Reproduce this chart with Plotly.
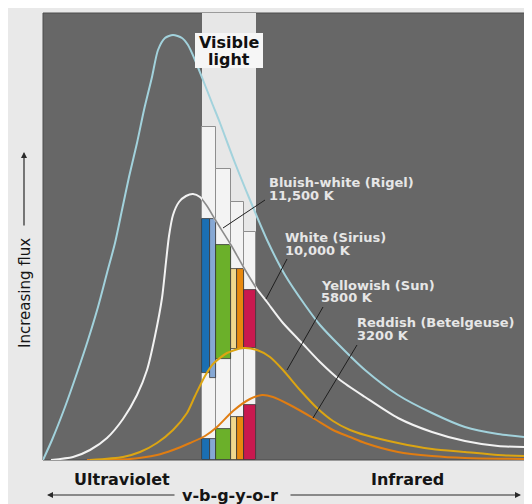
import plotly.graph_objects as go

# ---------------- data (arbitrary wavelength / flux units) ----------------
# Bluish-white (Rigel) curve
rigel_wl = [0, 9, 22, 34, 45, 55, 64, 72, 79, 86, 94, 101, 109, 115, 122, 130, 139, 145, 152,
            160, 169, 177, 192, 207, 225, 242, 262, 277, 296, 322, 355, 389, 422, 455, 482]
rigel_flux = [0, 20, 53, 87, 120, 153, 187, 217, 250, 283, 317, 350, 383, 410, 422, 425, 422, 415, 400,
              380, 357, 337, 297, 260, 218, 185, 155, 135, 115, 90, 65, 47, 33, 26, 23]

# White (Sirius) curve
sirius_wl = [8, 30, 47, 64, 80, 94, 104, 112, 119, 123, 126, 130, 136, 143, 150, 157, 164, 173, 188,
             201, 214, 224, 240, 259, 277, 297, 322, 355, 389, 422, 455, 482]
sirius_flux = [0, 3, 10, 22, 41, 65, 90, 124, 162, 198, 224, 245, 258, 264, 266, 263, 254, 239, 215,
               192, 171, 158, 137, 117, 98, 80, 63, 42, 28, 19, 14, 13]

# Yellowish (Sun) curve
sun_wl = [47, 80, 97, 114, 130, 144, 152, 162, 170, 184, 200, 214, 227, 240, 257, 274, 290, 307,
          322, 355, 389, 422, 455, 482]
sun_flux = [0, 3, 8, 17, 30, 47, 64, 84, 96, 107, 112, 110, 103, 90, 70, 52, 39, 30,
            25, 17, 11, 8, 5, 4]

# Reddish (Betelgeuse) curve
betel_wl = [44, 87, 114, 130, 147, 162, 174, 190, 207, 219, 230, 247, 270, 290, 307, 322, 355,
            389, 422, 482]
betel_flux = [0, 1, 5, 10, 17, 24, 33, 49, 61, 65, 63, 55, 42, 30, 23, 17, 8, 4, 2, 1]

# visible colour bands v-b-g-y-o-r
band_names = ["v", "b", "g", "y", "o", "r"]
band_lo = [159, 167, 173, 188, 194, 201]
band_hi = [167, 173, 188, 194, 201, 213]
band_colors = ["#1b6fb3", "#86a8d4", "#6bb02a", "#f1d88e", "#e8890f", "#c9194f"]
band_upper_top = [241, 241, 215, 191, 191, 170]
band_upper_base = [87, 82, 101, 111, 111, 112]
band_lower_top = [21, 21, 31, 43, 43, 55]

# outlined white columns
col_lo = [159, 173, 188, 201]
col_hi = [173, 188, 201, 213]
col_top = [333, 291, 258, 228]

VIS_LO, VIS_HI = 159, 213
XMAX, YMAX = 482, 447

fig = go.Figure()

# white outlined columns
fig.add_trace(go.Bar(
    x=[(a + b) / 2 for a, b in zip(col_lo, col_hi)],
    y=col_top, base=[0] * len(col_top),
    width=[b - a for a, b in zip(col_lo, col_hi)],
    marker=dict(color="#f3f3f3", line=dict(color="#8e8e8e", width=1))))

# upper coloured bars
fig.add_trace(go.Bar(
    x=[(a + b) / 2 for a, b in zip(band_lo, band_hi)],
    y=[t - b for t, b in zip(band_upper_top, band_upper_base)],
    base=band_upper_base,
    width=[b - a for a, b in zip(band_lo, band_hi)],
    marker=dict(color=band_colors, line=dict(color="#333333", width=0.8))))

# lower coloured bars
fig.add_trace(go.Bar(
    x=[(a + b) / 2 for a, b in zip(band_lo, band_hi)],
    y=band_lower_top, base=[0] * len(band_lower_top),
    width=[b - a for a, b in zip(band_lo, band_hi)],
    marker=dict(color=band_colors, line=dict(color="#333333", width=0.8))))

line_common = dict(mode="lines", line_shape="spline")
fig.add_trace(go.Scatter(x=betel_wl, y=betel_flux, line=dict(color="#e07d12", width=2, smoothing=0.7), **line_common))
fig.add_trace(go.Scatter(x=sun_wl, y=sun_flux, line=dict(color="#dca512", width=2, smoothing=0.7), **line_common))
fig.add_trace(go.Scatter(x=sirius_wl, y=sirius_flux, line=dict(color="#f2f2f2", width=2, smoothing=0.7), **line_common))
fig.add_trace(go.Scatter(x=rigel_wl, y=rigel_flux, line=dict(color="#a2d2dc", width=2, smoothing=0.7), **line_common))
# grey part of the white curve inside the visible band (clipped by second axes)
fig.add_trace(go.Scatter(x=sirius_wl, y=sirius_flux, xaxis="x2", yaxis="y2",
                         line=dict(color="#8a8a8a", width=1.6, smoothing=0.7), **line_common))

shapes = [
    dict(type="rect", xref="paper", yref="paper", x0=0, x1=1, y0=0, y1=1,
         fillcolor="#676767", line=dict(color="#4d4d4d", width=1), layer="below"),
    dict(type="rect", xref="x", yref="y", x0=VIS_LO, x1=VIS_HI, y0=0, y1=YMAX,
         fillcolor="#e7e7e7", line=dict(width=0), layer="below"),
    dict(type="rect", xref="x", yref="y", x0=152, x1=220, y0=392, y1=427,
         fillcolor="#f6f6f6", line=dict(width=0), layer="above"),
]
leaders = [((222, 260), (180, 232)), ((244, 201), (223, 161)),
           ((280, 153), (244, 90)), ((314, 115), (270, 42))]
for (x0, y0), (x1, y1) in leaders:
    shapes.append(dict(type="line", xref="x", yref="y", x0=x0, y0=y0, x1=x1, y1=y1,
                       line=dict(color="#1e1e1e", width=1), layer="above"))

font_fam = "DejaVu Sans"
ann = []
def txt(x, y, s, size=13, color="#e6e6e6", bold=True, xanchor="left", xref="x", yref="y", angle=0):
    ann.append(dict(x=x, y=y, xref=xref, yref=yref, text=("<b>%s</b>" % s) if bold else s,
                    showarrow=False, xanchor=xanchor, yanchor="middle", textangle=angle,
                    font=dict(family=font_fam, size=size, color=color)))

txt(186, 418, "Visible", size=16, color="#111111", xanchor="center")
txt(186, 401, "light", size=16, color="#111111", xanchor="center")
txt(224, 278, "Bluish-white (Rigel)")
txt(224, 265, "11,500 K")
txt(240, 222.5, "White (Sirius)")
txt(240, 210, "10,000 K")
txt(276, 175, "Yellowish (Sun)")
txt(276, 162.5, "5800 K")
txt(312, 137.5, "Reddish (Betelgeuse)")
txt(312, 125, "3200 K")

# outside-axis labels (paper coordinates; page pixels -> plot fraction)
def px(xp):
    return (xp - 43) / 482
def py(yp):
    return (460 - yp) / 447

txt(px(122), py(479), "Ultraviolet", size=16, color="#151515", xanchor="center", xref="paper", yref="paper")
txt(px(407), py(479), "Infrared", size=16, color="#151515", xanchor="center", xref="paper", yref="paper")
txt(px(229.5), py(496), "v-b-g-y-o-r", size=16, color="#151515", xanchor="center", xref="paper", yref="paper")
txt(px(25), py(293), "Increasing flux", size=15, color="#151515", bold=False, xanchor="center",
    xref="paper", yref="paper", angle=-90)

arrow_style = dict(showarrow=True, text="", arrowhead=2, arrowsize=1, arrowwidth=1.2,
                   arrowcolor="#2a2a2a", xref="paper", yref="paper", standoff=0)
ann.append(dict(x=px(24), y=py(152), ax=0, ay=75, **arrow_style))
ann.append(dict(x=px(47), y=py(495), ax=129, ay=0, **arrow_style))
ann.append(dict(x=px(521), y=py(495), ax=-232, ay=0, **arrow_style))

# page body has an 8px margin, so the figure is 8px smaller and shifted accordingly
fig.update_layout(
    width=524, height=496,
    margin=dict(l=35, r=7, t=5, b=44),
    paper_bgcolor="#e9e9e9", plot_bgcolor="rgba(0,0,0,0)",
    showlegend=False, barmode="overlay", bargap=0, hovermode=False,
    font=dict(family=font_fam),
    xaxis=dict(range=[0, XMAX], visible=False, fixedrange=True, domain=[0, 1]),
    yaxis=dict(range=[0, YMAX], visible=False, fixedrange=True, domain=[0, 1]),
    xaxis2=dict(range=[VIS_LO, VIS_HI], visible=False, fixedrange=True,
                domain=[VIS_LO / XMAX, VIS_HI / XMAX], anchor="y2"),
    yaxis2=dict(range=[0, YMAX], visible=False, fixedrange=True, domain=[0, 1], anchor="x2"),
    shapes=shapes, annotations=ann,
)

fig.write_html("out.html")
